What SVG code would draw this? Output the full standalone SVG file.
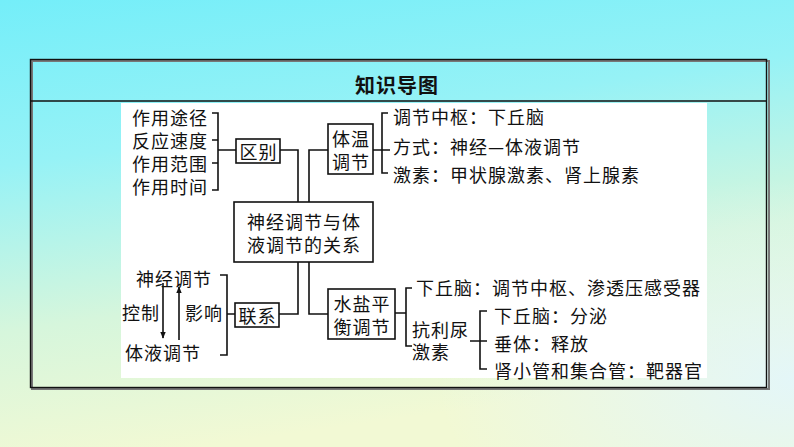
<svg xmlns="http://www.w3.org/2000/svg" width="794" height="447" viewBox="0 0 794 447">
<defs>
<linearGradient id="bg" x1="0" y1="0" x2="0.25" y2="1">
<stop offset="0" stop-color="#74eef9"/>
<stop offset="0.35" stop-color="#96f2f6"/>
<stop offset="0.7" stop-color="#d6f6dc"/>
<stop offset="1" stop-color="#f2f9d4"/>
</linearGradient>
<radialGradient id="rb" cx="1" cy="0.85" r="0.45">
<stop offset="0" stop-color="#e2f6fc" stop-opacity="0.9"/>
<stop offset="1" stop-color="#e2f6fc" stop-opacity="0"/>
</radialGradient>
<marker id="ah" viewBox="0 0 10 10" refX="9" refY="5" markerWidth="7" markerHeight="7" markerUnits="userSpaceOnUse" orient="auto">
<path d="M0,1 L10,5 L0,9 Z" fill="#111"/>
</marker>
<style>
.t{font-family:"Noto Sans CJK SC","Liberation Sans",sans-serif;font-size:18px;fill:#111;letter-spacing:1px;dominant-baseline:central}
.c{text-anchor:middle}
.b{fill:#fff;stroke:#111;stroke-width:1.6}
.l{fill:none;stroke:#111;stroke-width:1.6}
</style>
</defs>
<rect width="794" height="447" fill="url(#bg)"/>
<rect width="794" height="447" fill="url(#rb)"/>
<rect x="32" y="61" width="737" height="328" fill="none" stroke="#777" stroke-width="2"/>
<rect x="30.5" y="59.5" width="736" height="328" fill="none" stroke="#111" stroke-width="1.4"/>
<line x1="30.5" y1="101" x2="766.5" y2="101" stroke="#111" stroke-width="1.4"/>
<rect x="121" y="103" width="586" height="275" fill="#fff"/>
<text x="397" y="84" class="t c" style="font-size:20px;font-weight:bold;letter-spacing:1px">知识导图</text>

<g id="connectors">
<path class="l" d="M212,113 H218 V190 H212 M212,140 H218 M212,163 H218 M218,150 H236"/>
<path class="l" d="M280,150 H298 V202"/>
<path class="l" d="M309,202 V150 H328"/>
<path class="l" d="M373,150 H390 M388,113 H382 V173 H388"/>
<path class="l" d="M298,262 V314 H279"/>
<path class="l" d="M309,262 V314 H328"/>
<path class="l" d="M220,275 H227 V355 H220 M227,314 H235"/>
<line class="l" x1="163" y1="283" x2="163" y2="338" marker-end="url(#ah)"/>
<line class="l" x1="179" y1="340" x2="179" y2="287" marker-end="url(#ah)"/>
<path class="l" d="M395,313 H406 M412,288 H406 V346 H412"/>
<path class="l" d="M470,341 H487 M487,311 H480 V369 H487"/>
</g>

<g id="n-left-items">
<text class="t"><tspan x="132" y="117">作用途径</tspan><tspan x="132" y="140">反应速度</tspan><tspan x="132" y="163">作用范围</tspan><tspan x="132" y="186">作用时间</tspan></text>
</g>
<g id="n-qubie"><rect class="b" x="236" y="139" width="44" height="24"/><text x="258.5" y="151" class="t c">区别</text></g>
<g id="n-main"><rect class="b" x="234" y="202" width="139" height="60"/><text class="t c"><tspan x="304" y="221">神经调节与体</tspan><tspan x="304" y="244">液调节的关系</tspan></text></g>
<g id="n-tiwen"><rect class="b" x="328" y="124" width="45" height="50"/><text class="t c"><tspan x="351" y="138">体温</tspan><tspan x="351" y="161">调节</tspan></text></g>
<g id="n-tiwen-items">
<text x="393" y="116" class="t">调节中枢：下丘脑</text>
<text x="393" y="146" class="t">方式：神经—体液调节</text>
<text x="393" y="174" class="t">激素：甲状腺激素、肾上腺素</text>
</g>
<g id="n-lianxi"><rect class="b" x="235" y="303" width="44" height="24"/><text x="257.5" y="315" class="t c">联系</text></g>
<g id="n-lianxi-items">
<text x="136" y="278" class="t">神经调节</text>
<text x="125" y="352" class="t">体液调节</text>
<text x="122" y="312" class="t">控制</text>
<text x="185" y="312" class="t">影响</text>
</g>
<g id="n-shuiyan"><rect class="b" x="328" y="289" width="67" height="50"/><text class="t c"><tspan x="362" y="303">水盐平</tspan><tspan x="362" y="326">衡调节</tspan></text></g>
<g id="n-shuiyan-items">
<text x="416" y="287" class="t">下丘脑：调节中枢、渗透压感受器</text>
<text class="t"><tspan x="412" y="329">抗利尿</tspan><tspan x="412" y="351">激素</tspan></text>
</g>
<g id="n-adh-items">
<text x="494" y="315" class="t">下丘脑：分泌</text>
<text x="494" y="343" class="t">垂体：释放</text>
<text x="494" y="370" class="t">肾小管和集合管：靶器官</text>
</g>
</svg>
